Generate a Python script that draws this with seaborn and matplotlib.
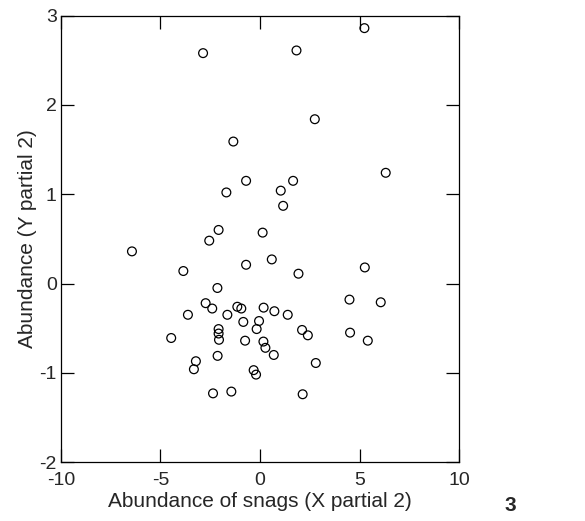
import pandas as pd
import matplotlib.pyplot as plt
import seaborn as sns

# partial residuals
x_partial = [5.24, -2.86, 1.83, 2.75, -1.34, 6.31, -0.70, 1.66, -1.69, 1.04,
             1.16, -2.08, -2.55, 0.13, -6.43, -3.85, -0.70, 0.59, 1.93, 5.26,
             -2.14, 4.49, 6.06, -2.73, -2.40, -1.14, -0.94, 0.18, 0.72, -3.62,
             -1.64, 1.39, -0.84, -0.05, -0.17, -2.08, -2.08, -2.06, -4.46, 2.11,
             2.40, 4.52, 5.41, -0.75, 0.17, 0.27, 0.69, -2.13, -3.22, -3.32,
             2.80, -0.32, -0.20, -2.36, -1.44, 2.14]
y_partial = [2.86, 2.58, 2.61, 1.84, 1.59, 1.24, 1.15, 1.15, 1.02, 1.04,
             0.87, 0.60, 0.48, 0.57, 0.36, 0.14, 0.21, 0.27, 0.11, 0.18,
             -0.05, -0.18, -0.21, -0.22, -0.28, -0.26, -0.28, -0.27, -0.31, -0.35,
             -0.35, -0.35, -0.43, -0.42, -0.51, -0.51, -0.56, -0.63, -0.61, -0.52,
             -0.58, -0.55, -0.64, -0.64, -0.65, -0.72, -0.80, -0.81, -0.87, -0.96,
             -0.89, -0.97, -1.02, -1.23, -1.21, -1.24]
x_ticks = [-10, -5, 0, 5, 10]
y_ticks = [-2, -1, 0, 1, 2, 3]

df = pd.DataFrame({'x': x_partial, 'y': y_partial})

sns.set_style('ticks')
plt.rcParams['font.family'] = ['Liberation Sans', 'DejaVu Sans']
plt.rcParams['axes.unicode_minus'] = False

fig = plt.figure(figsize=(5.85, 5.21), dpi=100)
ax = fig.add_axes([0.104, 0.113, 0.681, 0.857])

sns.scatterplot(data=df, x='x', y='y', ax=ax, marker='o', s=40,
                facecolor='none', edgecolor='black', linewidth=0.9)

ax.set_xlim(-10, 10)
ax.set_ylim(-2, 3)
ax.set_xticks(x_ticks)
ax.set_yticks(y_ticks)
ax.tick_params(direction='in', length=9.5, width=0.9, top=True, right=True,
               labelsize=14, color='black')
ax.tick_params(axis='x', pad=7)
ax.tick_params(axis='y', pad=3)
for sp in ax.spines.values():
    sp.set_visible(True)
    sp.set_linewidth(0.9)
    sp.set_color('black')

ax.set_xlabel('Abundance of snags (X partial 2)', fontsize=15, labelpad=2)
ax.set_ylabel('Abundance (Y partial 2)', fontsize=15, labelpad=2)
fig.text(0.872, 0.03, '3', fontsize=15, fontweight='bold', ha='center', va='center')

plt.savefig('out.png', dpi=100)
plt.close()
